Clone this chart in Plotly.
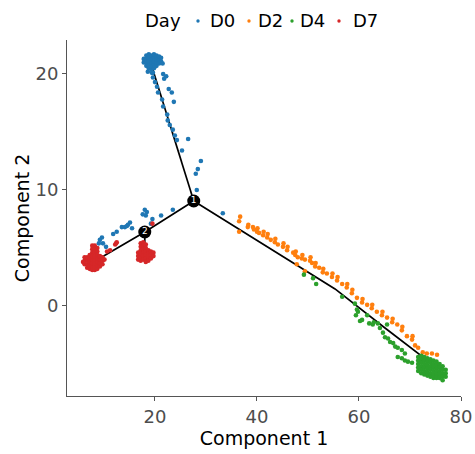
import plotly.graph_objects as go

# Cell embedding (Component 1, Component 2) grouped by sampling day
d0_points = [
    # dense start cluster
    (17.8, 21.0), (17.8, 21.3),
    (18.3, 20.7), (18.3, 21.0), (18.3, 21.3), (18.3, 21.6),
    (18.8, 20.5), (18.8, 20.8), (18.8, 21.1), (18.8, 21.4), (18.8, 21.7),
    (19.3, 20.4), (19.3, 20.7), (19.3, 21.0), (19.3, 21.3), (19.3, 21.6),
    (19.8, 20.5), (19.8, 20.8), (19.8, 21.1), (19.8, 21.4), (19.8, 21.7),
    (20.3, 20.7), (20.3, 21.0), (20.3, 21.3), (20.3, 21.6),
    (20.8, 20.9), (20.8, 21.2), (20.8, 21.5),
    (21.2, 21.1), (21.2, 21.4), (21.5, 20.9), (18.6, 20.2), (19.6, 20.1),
    # stream down towards the first branch point
    (19.4, 20.1), (19.6, 19.7), (20.0, 19.3), (20.4, 18.9), (20.6, 18.4),
    (21.4, 17.8), (21.6, 17.2), (22.4, 16.5), (22.5, 16.0), (22.9, 15.6),
    (23.5, 15.2), (23.9, 14.7), (24.3, 14.3), (25.3, 13.4),
    (21.6, 20.0), (22.2, 19.8), (21.8, 19.6), (22.7, 18.7), (23.3, 18.4),
    (23.7, 17.6), (26.5, 14.4), (29.0, 12.5), (28.4, 11.8), (28.0, 11.4),
    (28.2, 10.0), (23.5, 8.3), (33.3, 8.0),
    # cells along the branch to the D7 clusters
    (21.2, 7.8), (18.0, 8.3), (18.4, 8.1), (17.6, 7.9), (18.2, 7.8),
    (19.5, 7.5), (19.2, 7.1), (15.1, 7.2), (14.7, 7.0), (14.1, 6.8),
    (13.5, 6.8), (15.5, 6.7), (14.5, 6.9), (12.5, 6.4), (11.8, 6.2),
    (9.6, 5.9), (9.2, 5.7), (9.8, 5.4), (9.0, 5.4), (10.4, 5.1),
]

d2_points = [
    (36.7, 7.7), (36.5, 7.3), (36.5, 6.4), (38.2, 6.8), (38.3, 7.0),
    (39.2, 6.8), (39.4, 6.6), (40.0, 6.4), (40.1, 6.7), (40.4, 6.3),
    (41.2, 6.1), (41.3, 6.4), (42.0, 5.9), (42.1, 6.2), (42.7, 5.7),
    (43.5, 5.5), (43.6, 5.8), (44.1, 5.3), (45.1, 5.1), (45.2, 5.4),
    (45.9, 4.8), (46.0, 5.1), (47.1, 4.6), (47.5, 4.4), (47.6, 4.7),
    (48.0, 4.2), (48.8, 4.1), (48.9, 4.4), (49.4, 4.0), (50.4, 3.9),
    (50.5, 4.2), (50.8, 3.7), (51.4, 3.4), (51.5, 3.7), (52.2, 3.3),
    (52.9, 2.9), (53.0, 3.2), (53.7, 2.8), (54.7, 2.5), (54.8, 2.8),
    (55.7, 2.2), (55.8, 2.5), (56.7, 1.9), (57.6, 1.6), (57.7, 1.9),
    (58.6, 1.1), (58.7, 1.4), (59.6, 0.7), (60.6, 0.3), (60.7, 0.6),
    (61.6, 0.1), (62.5, -0.2), (62.6, 0.1), (63.5, -0.5), (64.5, -0.8),
    (64.6, -0.5), (65.5, -1.0), (66.5, -1.4), (66.6, -1.1), (67.5, -1.6),
    (68.4, -2.1), (68.5, -1.8), (69.4, -2.6), (70.4, -2.9), (70.5, -2.6),
    (71.0, -3.4), (71.6, -3.6), (72.5, -4.0), (73.3, -4.1), (74.3, -4.1),
    (75.3, -4.2), (47.8, 3.6), (49.4, 3.0),
]

d4_points = [
    (49.2, 2.7), (51.0, 2.4), (51.6, 1.9), (56.7, 0.8), (59.2, 0.2),
    (59.6, -0.3), (59.8, -0.5), (59.4, -0.8), (60.2, -1.3), (60.6, -1.2),
    (61.6, -0.8), (62.0, -1.5), (62.9, -1.4), (63.7, -1.5), (64.1, -1.9),
    (65.5, -1.6), (62.7, -1.6), (64.7, -2.3), (65.1, -2.7), (65.7, -2.8),
    (66.1, -3.1), (66.7, -3.2), (67.1, -3.5), (67.6, -3.6), (68.4, -3.8),
    (69.0, -4.1), (67.6, -4.4), (68.4, -4.5), (69.0, -4.7), (69.6, -4.8),
    (70.4, -4.9),
    # end-state cluster
    (71.6, -4.4), (71.6, -4.7), (71.6, -5.0), (71.6, -5.3), (71.6, -5.6),
    (72.2, -4.3), (72.2, -4.6), (72.2, -4.9), (72.2, -5.2), (72.2, -5.5), (72.2, -5.8),
    (72.8, -4.4), (72.8, -4.7), (72.8, -5.0), (72.8, -5.3), (72.8, -5.6), (72.8, -5.9),
    (73.4, -4.5), (73.4, -4.8), (73.4, -5.1), (73.4, -5.4), (73.4, -5.7), (73.4, -6.0),
    (74.0, -4.6), (74.0, -4.9), (74.0, -5.2), (74.0, -5.5), (74.0, -5.8), (74.0, -6.1),
    (74.6, -4.7), (74.6, -5.0), (74.6, -5.3), (74.6, -5.6), (74.6, -5.9), (74.6, -6.2),
    (75.2, -4.8), (75.2, -5.1), (75.2, -5.4), (75.2, -5.7), (75.2, -6.0), (75.2, -6.2),
    (75.8, -5.0), (75.8, -5.3), (75.8, -5.6), (75.8, -5.9), (75.8, -6.2),
    (76.4, -5.2), (76.4, -5.5), (76.4, -5.8), (76.4, -6.1), (76.4, -6.4),
    (77.0, -5.5), (77.0, -5.8), (77.0, -6.1),
]

d7_points = [
    # left cluster
    (7.7, 5.2), (7.7, 4.9), (7.7, 4.6), (8.2, 5.2), (8.2, 4.9), (8.2, 4.6),
    (8.7, 5.0), (8.7, 4.7),
    (6.2, 3.6), (6.2, 3.9), (6.2, 4.2),
    (6.7, 3.3), (6.7, 3.6), (6.7, 3.9), (6.7, 4.2),
    (7.2, 3.2), (7.2, 3.5), (7.2, 3.8), (7.2, 4.1), (7.2, 4.4),
    (7.7, 3.1), (7.7, 3.4), (7.7, 3.7), (7.7, 4.0), (7.7, 4.3),
    (8.2, 3.1), (8.2, 3.4), (8.2, 3.7), (8.2, 4.0), (8.2, 4.3),
    (8.7, 3.2), (8.7, 3.5), (8.7, 3.8), (8.7, 4.1), (8.7, 4.4),
    (9.2, 3.4), (9.2, 3.7), (9.2, 4.0), (9.2, 4.3),
    (9.7, 3.6), (9.7, 3.9), (9.7, 4.2), (5.9, 3.8), (10.1, 4.0),
    (10.6, 4.7), (11.2, 4.8), (12.2, 5.3), (12.5, 5.5), (12.4, 5.4),
    (19.5, 7.1),
    # right cluster below the second branch point
    (16.7, 4.6), (16.7, 4.3), (16.7, 4.0),
    (17.2, 5.4), (17.2, 5.1), (17.2, 4.8), (17.2, 4.5), (17.2, 4.2), (17.2, 3.9),
    (17.7, 5.5), (17.7, 5.2), (17.7, 4.9), (17.7, 4.6), (17.7, 4.3), (17.7, 4.0),
    (18.2, 5.3), (18.2, 5.0), (18.2, 4.7), (18.2, 4.4), (18.2, 4.1), (18.2, 3.8),
    (18.7, 4.8), (18.7, 4.5), (18.7, 4.2), (18.7, 3.9),
    (19.2, 4.7), (19.2, 4.4), (19.2, 4.1),
    (19.7, 4.6), (19.7, 4.3),
]

day_labels = ["D0", "D2", "D4", "D7"]
day_points = [d0_points, d2_points, d4_points, d7_points]
day_colors = ["#1f77b4", "#ff7f0e", "#2ca02c", "#d62728"]

# Principal graph: branch points and tree edges (polylines)
branch_points = [(27.6, 9.05), (18.0, 6.38)]
branch_labels = ["1", "2"]
tree_edges = [
    [(19.2, 20.9), (27.6, 9.05)],
    [(27.6, 9.05), (55.3, 1.47), (65.1, -1.9), (71.6, -4.05), (74.6, -5.1)],
    [(27.6, 9.05), (18.0, 6.38), (9.1, 4.1)],
    [(18.0, 6.38), (18.0, 5.4)],
]

x_ticks = [20, 40, 60, 80]
y_ticks = [0, 10, 20]
x_range = [2.75, 80.0]
y_range = [-7.76, 22.93]

W, H = 475, 454
ML, MR, MT, MB = 67, 14, 40, 58
FONT = "DejaVu Sans"


def paper_x(px):
    return (px - ML) / (W - ML - MR)


def paper_y(py):
    return (H - MB - py) / (H - MT - MB)


fig = go.Figure()

# tree edges
for edge in tree_edges:
    fig.add_trace(go.Scatter(
        x=[p[0] for p in edge], y=[p[1] for p in edge],
        mode="lines", line=dict(color="black", width=1.7),
        hoverinfo="skip", showlegend=False,
    ))

# cells
for label, pts, color in zip(day_labels, day_points, day_colors):
    fig.add_trace(go.Scatter(
        x=[p[0] for p in pts], y=[p[1] for p in pts],
        mode="markers", name=label,
        marker=dict(color=color, size=4.6, line=dict(width=0)),
        showlegend=False,
    ))

# branch point markers
fig.add_trace(go.Scatter(
    x=[p[0] for p in branch_points], y=[p[1] for p in branch_points],
    mode="markers+text", text=branch_labels, textposition="middle center",
    textfont=dict(color="white", size=9, family=FONT),
    marker=dict(color="black", size=13, line=dict(width=0)),
    hoverinfo="skip", showlegend=False,
))

# legend row drawn as text + dots
legend_y = paper_y(21)
annotations = [dict(
    x=paper_x(163), y=legend_y, xref="paper", yref="paper",
    text="Day", showarrow=False, xanchor="center", yanchor="middle",
    font=dict(size=18, color="black", family=FONT),
)]
shapes = []
dot_px = [198, 249, 292, 339]
text_px = [208, 256, 298, 351]
for label, color, dx, tx in zip(day_labels, day_colors, dot_px, text_px):
    shapes.append(dict(
        type="circle", xref="paper", yref="paper",
        xsizemode="pixel", ysizemode="pixel",
        xanchor=paper_x(dx), yanchor=legend_y,
        x0=-1.7, x1=1.7, y0=-1.7, y1=1.7,
        fillcolor=color, line=dict(width=0),
    ))
    annotations.append(dict(
        x=paper_x(tx), y=legend_y, xref="paper", yref="paper",
        text=label, showarrow=False, xanchor="left", yanchor="middle",
        font=dict(size=18, color="black", family=FONT),
    ))

axis_common = dict(
    showgrid=False, zeroline=False, showline=True, automargin=False,
    linecolor="#555555", linewidth=1,
    ticks="outside", ticklen=4, tickcolor="#555555", tickwidth=1,
    tickfont=dict(size=18, color="#4d4d4d", family=FONT),
)

fig.update_layout(
    width=W, height=H,
    margin=dict(l=ML, r=MR, t=MT, b=MB),
    plot_bgcolor="white", paper_bgcolor="white",
    font=dict(family=FONT),
    xaxis=dict(range=x_range, tickvals=x_ticks,
               title=dict(text="Component 1", standoff=5,
                          font=dict(size=19, color="black", family=FONT)),
               **axis_common),
    yaxis=dict(range=y_range, tickvals=y_ticks,
               title=dict(text="Component 2", standoff=0,
                          font=dict(size=19, color="black", family=FONT)),
               **axis_common),
    annotations=annotations,
    shapes=shapes,
)

fig.write_html("out.html")
